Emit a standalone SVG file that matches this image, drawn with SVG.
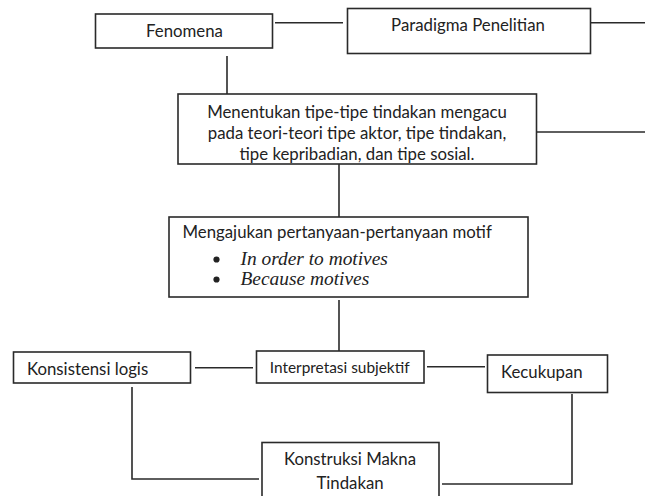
<svg xmlns="http://www.w3.org/2000/svg" width="645" height="496" viewBox="0 0 645 496">
<style>
.box{fill:#fff;stroke:#2a2a2a;stroke-width:1.6}
.ln{fill:none;stroke:#2a2a2a;stroke-width:1.6}
.t{font-family:Lato,"Liberation Sans",sans-serif;fill:#222;font-size:16.8px}
.c{text-anchor:middle}
.s{font-size:15.4px}
.i{font-family:"Liberation Serif",serif;font-style:italic;font-size:19.4px;fill:#222}
.b{fill:#222}
</style>
<rect width="645" height="496" fill="#fff"/>
<g id="connectors">
<path class="ln" d="M275 22.7H343"/>
<path class="ln" d="M591 22.7H645"/>
<path class="ln" d="M227 56V94"/>
<path class="ln" d="M537 132H645"/>
<path class="ln" d="M339 164V217"/>
<path class="ln" d="M339 300V351"/>
<path class="ln" d="M195 367.7H253"/>
<path class="ln" d="M427 366.7H485"/>
<path class="ln" d="M132 387V479H259"/>
<path class="ln" d="M442 484H572V394"/>
</g>
<g id="fenomena">
<rect class="box" x="95.5" y="14" width="177" height="34"/>
<text class="t c" x="184.5" y="36.5">Fenomena</text>
</g>
<g id="paradigma">
<rect class="box" x="347.5" y="8.5" width="243" height="45"/>
<text class="t c" x="468" y="31">Paradigma Penelitian</text>
</g>
<g id="menentukan">
<rect class="box" x="178" y="94" width="358.5" height="70"/>
<text class="t c" x="357" y="118">Menentukan tipe-tipe tindakan mengacu</text>
<text class="t c" x="357" y="139">pada teori-teori tipe aktor, tipe tindakan,</text>
<text class="t c" x="357" y="160">tipe kepribadian, dan tipe sosial.</text>
</g>
<g id="mengajukan">
<rect class="box" x="169" y="217" width="359" height="80"/>
<text class="t" x="182.5" y="238">Mengajukan pertanyaan-pertanyaan motif</text>
<circle class="b" cx="216.5" cy="259.5" r="3.1"/>
<text class="i" x="240.5" y="265">In order to motives</text>
<circle class="b" cx="216.5" cy="279.5" r="3.1"/>
<text class="i" x="240.5" y="284.5">Because motives</text>
</g>
<g id="interpretasi">
<rect class="box" x="256.5" y="351" width="167.5" height="32"/>
<text class="t s c" x="339.7" y="372.5">Interpretasi subjektif</text>
</g>
<g id="konsistensi">
<rect class="box" x="13.5" y="352" width="177" height="31"/>
<text class="t" x="27" y="375">Konsistensi logis</text>
</g>
<g id="kecukupan">
<rect class="box" x="487.5" y="355" width="120" height="37.5"/>
<text class="t" x="501" y="378">Kecukupan</text>
</g>
<g id="konstruksi">
<rect class="box" x="262" y="442.5" width="177" height="60"/>
<text class="t c" x="350" y="465">Konstruksi Makna</text>
<text class="t c" x="350" y="488.5">Tindakan</text>
</g>
</svg>
